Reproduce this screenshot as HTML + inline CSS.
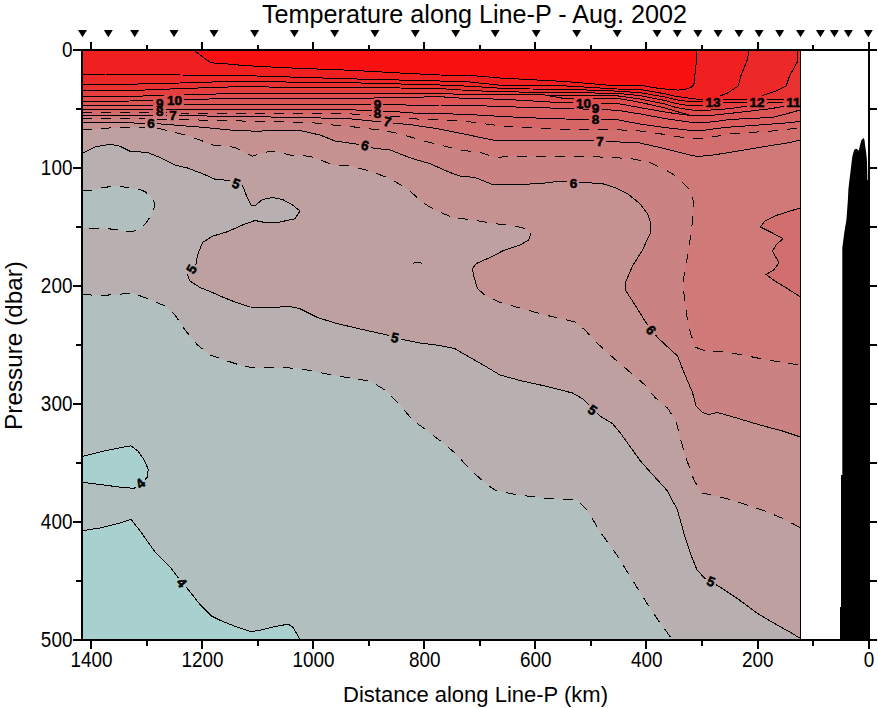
<!DOCTYPE html>
<html><head><meta charset="utf-8"><title>Temperature along Line-P - Aug. 2002</title>
<style>
html,body{margin:0;padding:0;background:#fff;}
body{width:878px;height:708px;position:relative;overflow:hidden;font-family:"Liberation Sans",sans-serif;}
</style></head><body>
<svg width="878" height="708" viewBox="0 0 878 708" style="position:absolute;left:0;top:0">
<defs><clipPath id="cp"><rect x="82" y="50" width="718.5" height="589.5"/></clipPath></defs>
<g clip-path="url(#cp)" shape-rendering="crispEdges">
<rect x="82" y="50" width="718.5" height="589.5" fill="#b1c0bf"/>
<polygon points="82.0,530.8 101.0,527.8 119.0,523.3 131.0,519.4 140.0,530.8 154.8,551.7 169.8,566.7 178.8,578.7 187.8,589.1 199.7,604.1 211.7,616.1 220.7,620.6 235.6,626.6 250.6,631.6 259.6,630.4 274.6,626.6 288.0,624.2 292.5,626.6 297.0,634.0 299.6,639.5 82.0,639.5" fill="#a8d0cf"/>
<polygon points="82.0,456.5 98.0,452.4 116.0,448.5 131.0,445.8 138.4,451.5 144.4,460.4 148.2,469.4 147.3,477.0 141.4,484.4 133.9,488.3 121.9,487.4 104.0,485.0 82.0,482.3" fill="#a8d0cf"/>
<polygon points="82.0,294.5 100.0,295.5 117.5,294.5 132.5,293.0 147.5,298.7 165.0,306.0 175.0,315.0 185.0,330.0 197.5,345.0 210.0,355.0 227.5,361.0 242.5,366.0 255.0,368.0 280.0,367.5 300.0,368.5 325.0,373.7 350.0,378.0 370.0,381.0 385.0,390.0 400.0,405.0 412.5,420.0 427.5,431.0 442.5,442.5 455.0,453.0 470.0,469.4 485.0,483.0 495.4,490.4 517.8,494.9 541.8,497.9 562.7,499.4 577.7,500.2 586.7,509.8 601.6,533.8 616.6,554.7 631.6,578.7 646.5,602.6 659.4,622.0 672.3,639.5 800.5,639.5 800.5,50.0 82.0,50.0" fill="#b8b0b0"/>
<polygon points="82.0,190.9 90.3,190.4 100.5,188.1 110.8,186.5 115.9,186.1 121.0,186.5 130.2,188.3 139.5,189.4 144.6,191.4 149.7,195.5 153.3,200.1 154.6,203.7 153.8,209.9 150.7,216.0 147.7,220.6 141.5,228.3 137.4,230.4 131.3,231.4 125.1,231.2 113.8,229.3 102.6,228.3 92.3,228.3 82.0,228.5" fill="#b1c0bf"/>
<polygon points="82.0,153.7 95.0,147.0 110.0,144.2 120.0,146.2 130.0,151.2 147.5,152.5 160.0,157.5 175.0,165.0 187.5,168.0 202.5,173.7 215.0,179.2 228.7,180.5 242.5,185.5 246.2,195.0 251.2,205.7 255.0,205.7 262.5,199.5 272.5,197.5 282.5,199.5 292.5,205.0 300.0,211.0 295.0,218.7 280.0,222.0 265.0,222.5 255.0,220.5 242.5,225.0 227.5,231.7 212.5,236.2 202.5,242.5 197.5,255.0 196.0,263.7 187.5,275.0 190.0,281.0 200.0,287.5 212.5,292.5 220.0,296.0 235.0,302.0 250.0,307.0 270.0,307.5 290.0,306.5 300.0,308.7 317.5,317.5 337.5,323.7 362.5,329.5 385.0,334.5 402.5,339.5 420.0,343.0 440.0,345.5 455.0,348.7 470.0,357.5 485.0,366.0 500.0,375.0 520.0,380.5 545.0,386.0 572.5,393.0 582.5,398.7 600.0,416.0 612.5,423.7 620.0,432.5 632.5,450.0 640.0,460.4 652.0,474.0 667.0,490.4 677.4,509.8 684.9,536.8 690.9,554.7 696.9,569.7 704.4,578.0 720.8,587.6 738.8,599.6 756.7,613.0 774.7,623.6 789.7,632.0 800.5,638.5 800.5,50.0 82.0,50.0" fill="#bea0a0"/>
<polygon points="82.0,130.0 105.0,128.2 130.0,127.0 155.0,127.5 170.0,131.2 185.0,135.0 200.0,140.0 212.5,145.0 225.0,145.7 235.0,147.5 245.0,152.5 252.5,156.2 260.0,153.7 270.0,151.2 280.0,152.5 290.0,155.0 300.0,155.0 315.0,157.5 332.5,165.0 350.0,166.0 370.0,171.0 390.0,178.7 407.5,188.7 422.5,202.5 435.0,210.0 452.5,217.5 472.5,220.0 495.0,223.7 515.0,226.0 526.0,228.7 531.0,233.0 528.7,240.0 520.0,245.0 502.5,251.0 490.0,257.5 476.0,263.7 472.5,268.7 473.7,276.0 477.5,288.7 486.0,296.0 500.0,302.5 522.5,308.7 545.0,315.0 565.0,319.5 575.0,322.0 585.0,330.0 595.0,341.0 610.0,355.0 627.5,370.0 645.0,385.0 655.0,397.5 667.5,408.0 676.0,421.0 680.0,437.5 686.4,459.0 693.9,480.0 701.4,492.8 711.8,494.9 729.8,499.4 747.7,505.3 765.7,511.3 783.7,518.8 800.5,527.8 800.5,50.0 82.0,50.0" fill="#c59291"/>
<polygon points="82.0,122.0 120.0,122.6 157.5,123.7 180.0,125.5 205.0,127.5 230.0,130.0 255.0,131.2 280.0,130.5 300.0,130.5 320.0,135.0 335.0,141.0 360.0,144.5 372.5,148.0 390.0,150.0 412.5,158.7 430.0,163.7 450.0,172.5 460.0,176.0 475.0,177.5 493.7,185.0 515.0,184.5 540.0,183.7 560.0,181.0 585.0,182.5 602.5,183.7 615.0,187.5 627.5,193.7 640.0,203.7 647.5,213.7 651.0,223.7 650.0,233.7 642.5,250.0 632.5,266.0 625.0,283.7 626.0,291.0 635.0,305.0 645.0,321.0 657.5,337.5 677.5,356.0 685.0,375.0 692.5,392.5 696.0,406.0 702.5,412.5 708.7,414.5 717.5,412.5 735.0,417.5 760.0,425.0 782.5,431.0 800.5,437.0 800.5,50.0 82.0,50.0" fill="#cb8282"/>
<polygon points="82.0,118.0 130.0,118.6 180.0,119.5 234.0,120.9 280.0,121.5 315.0,123.0 337.5,125.5 360.0,127.5 382.5,130.5 400.0,133.7 420.0,140.0 440.0,145.0 460.0,150.0 480.0,152.5 497.5,158.0 507.5,156.0 519.5,156.0 560.0,156.5 600.0,157.0 630.0,158.5 648.7,162.0 658.7,167.0 667.5,171.0 675.0,175.5 682.5,182.5 690.0,190.0 693.0,200.0 693.0,210.0 692.0,225.0 690.0,240.0 688.7,250.0 686.0,265.0 683.7,277.5 683.7,290.0 684.5,300.0 687.5,320.0 691.0,335.0 696.0,347.5 705.0,350.7 725.0,351.7 745.0,355.5 765.0,359.5 782.5,362.5 800.5,365.0 800.5,50.0 82.0,50.0" fill="#cf7978"/>
<polygon points="82.0,115.5 130.0,115.3 180.0,115.6 234.0,116.4 300.0,117.5 349.0,118.7 392.5,123.0 412.5,125.0 437.5,128.7 462.5,133.7 492.5,140.0 519.5,140.0 560.0,140.5 600.0,141.0 640.0,143.0 665.0,148.7 690.0,155.0 697.0,156.4 710.0,155.5 731.0,152.2 772.0,145.4 790.0,142.5 800.5,140.0 800.5,50.0 82.0,50.0" fill="#d36e6e"/>
<polygon points="82.0,112.4 130.0,112.6 180.0,113.0 234.0,113.5 300.0,113.5 349.0,113.8 400.0,117.0 420.0,119.3 440.0,120.0 469.0,121.7 500.0,125.8 530.0,127.5 565.0,129.6 617.0,129.7 640.0,131.0 665.0,134.5 690.0,138.6 700.0,139.0 715.0,136.5 731.0,133.8 772.0,131.0 790.0,129.0 800.5,128.3 800.5,50.0 82.0,50.0" fill="#d66666"/>
<polygon points="82.0,110.0 130.0,109.8 180.0,109.5 234.0,109.4 300.0,109.4 349.0,109.7 400.0,112.0 420.0,113.5 440.0,113.6 469.0,114.5 500.0,116.4 530.0,117.8 565.0,119.0 617.0,119.7 640.0,124.0 665.0,127.5 690.0,130.4 700.0,131.0 715.0,128.7 731.0,127.0 765.0,124.6 786.0,122.9 800.5,121.5 800.5,50.0 82.0,50.0" fill="#d95f5f"/>
<polygon points="82.0,106.0 130.0,105.6 180.0,105.0 234.0,104.1 300.0,104.0 349.0,104.1 400.0,104.8 420.0,105.5 440.0,105.0 469.0,105.4 500.0,106.5 530.0,107.5 565.0,108.4 617.0,110.2 640.0,113.9 665.0,118.5 690.0,122.2 700.0,123.0 715.0,121.5 731.0,119.4 772.0,117.4 786.0,114.0 800.5,109.9 800.5,50.0 82.0,50.0" fill="#dc5555"/>
<polygon points="82.0,101.5 130.0,101.0 180.0,99.8 234.0,98.3 300.0,98.3 349.0,98.5 400.0,97.5 440.0,96.7 469.0,98.7 500.0,99.1 530.0,100.8 565.0,102.9 617.0,103.4 640.0,107.6 665.0,112.0 676.0,113.7 690.0,115.3 700.0,116.0 715.0,115.0 731.0,113.3 772.0,108.5 786.0,105.8 800.5,104.4 800.5,50.0 82.0,50.0" fill="#e04b4b"/>
<polygon points="800.5,208.0 790.0,211.0 777.5,215.0 765.0,221.0 760.5,227.0 772.5,233.0 783.0,238.7 776.0,245.0 772.5,251.0 776.0,257.5 779.0,263.0 773.7,270.0 766.0,274.5 775.0,281.0 787.5,288.7 800.5,297.0" fill="#d36e6e"/>
<polygon points="545.0,95.2 565.0,98.6 617.0,98.3 640.0,102.3 665.0,108.0 676.0,111.3 690.0,115.3 690.0,109.9 676.0,107.5 665.0,104.0 640.0,99.0 617.0,95.8 565.0,95.6 545.0,95.0" fill="#e24444"/>
<polygon points="82.0,97.0 130.0,96.4 180.0,95.0 234.0,93.5 300.0,93.3 349.0,93.2 400.0,93.3 440.0,93.4 469.0,94.8 500.0,94.6 530.0,94.8 545.0,95.0 565.0,95.6 617.0,95.8 640.0,99.0 665.0,104.0 676.0,107.5 690.0,109.9 700.0,110.6 715.0,109.8 731.0,108.5 750.0,105.5 772.0,102.4 786.0,102.6 800.5,103.0 800.5,50.0 82.0,50.0" fill="#e43e3e"/>
<polygon points="82.0,91.0 130.0,90.6 180.0,88.6 234.0,86.8 300.0,87.2 349.0,87.5 400.0,88.0 440.0,88.6 469.0,90.5 500.0,91.7 530.0,92.2 565.0,92.6 617.0,93.3 640.0,95.6 665.0,100.5 676.0,103.6 690.0,105.8 700.0,106.0 710.0,104.2 722.0,102.4 750.0,102.4 766.0,100.0 786.0,99.2 800.5,100.5 800.5,50.0 82.0,50.0" fill="#e83232"/>
<polygon points="82.0,84.5 130.0,84.2 180.0,83.0 234.0,81.3 300.0,82.2 349.0,82.7 400.0,84.0 440.0,85.0 469.0,86.2 500.0,88.2 530.0,89.0 565.0,89.2 617.0,91.1 640.0,92.7 665.0,97.0 676.0,99.8 690.0,101.7 700.0,102.0 710.0,100.6 722.0,99.6 750.0,99.6 757.0,98.5 763.0,95.4 776.0,91.0 786.2,86.0 789.6,75.8 797.3,62.0 797.8,50.0 82.0,50.0" fill="#ed2828"/>
<polygon points="82.0,75.0 105.0,74.0 130.0,74.3 180.0,75.0 234.0,75.3 300.0,77.3 349.0,78.8 400.0,80.0 440.0,81.0 469.0,81.9 500.0,85.2 530.0,85.6 565.0,85.9 617.0,89.0 640.0,89.4 665.0,93.8 676.0,96.4 690.0,98.2 700.0,99.6 710.0,100.2 719.5,96.3 728.0,92.8 738.3,86.0 740.9,75.8 747.7,58.7 748.6,50.0 82.0,50.0" fill="#f12020"/>
<polygon points="193.4,50.0 198.0,53.5 203.0,57.0 207.0,60.2 210.8,62.4 217.0,63.5 227.0,63.9 240.5,65.2 260.0,66.5 300.0,68.4 349.0,70.2 400.0,73.0 440.0,75.0 469.0,75.3 500.0,78.0 530.0,79.6 565.0,81.5 617.0,85.9 640.0,85.0 649.6,87.0 659.2,88.4 668.8,89.4 678.4,90.1 685.0,89.4 691.0,87.4 693.8,84.6 694.8,79.8 695.0,74.0 696.2,63.3 696.2,50.0" fill="#f91111"/>
</g>
<g clip-path="url(#cp)" fill="none" stroke="#000" stroke-width="1" stroke-linejoin="round" shape-rendering="crispEdges">
<polyline points="82.0,530.8 101.0,527.8 119.0,523.3 131.0,519.4 140.0,530.8 154.8,551.7 169.8,566.7 178.2,577.9" />
<polyline points="186.1,587.2 187.8,589.1 199.7,604.1 211.7,616.1 220.7,620.6 235.6,626.6 250.6,631.6 259.6,630.4 274.6,626.6 288.0,624.2 292.5,626.6 297.0,634.0 299.6,639.5" />
<polyline points="82.0,456.5 98.0,452.4 116.0,448.5 131.0,445.8 138.4,451.5 144.4,460.4 148.2,469.4 147.3,477.0 145.3,479.5" />
<polyline points="135.8,487.3 133.9,488.3 121.9,487.4 104.0,485.0 82.0,482.3" />
<polyline points="82.0,153.7 95.0,147.0 110.0,144.2 120.0,146.2 130.0,151.2 147.5,152.5 160.0,157.5 175.0,165.0 187.5,168.0 202.5,173.7 215.0,179.2 228.7,180.5 230.6,181.2" />
<polyline points="242.0,185.3 242.5,185.5 246.2,195.0 251.2,205.7 255.0,205.7 262.5,199.5 272.5,197.5 282.5,199.5 292.5,205.0 300.0,211.0 295.0,218.7 280.0,222.0 265.0,222.5 255.0,220.5 242.5,225.0 227.5,231.7 212.5,236.2 202.5,242.5 197.5,255.0 196.0,263.7 195.4,264.5" />
<polyline points="188.1,274.2 187.5,275.0 190.0,281.0 200.0,287.5 212.5,292.5 220.0,296.0 235.0,302.0 250.0,307.0 270.0,307.5 290.0,306.5 300.0,308.7 317.5,317.5 337.5,323.7 362.5,329.5 385.0,334.5 388.9,335.6" />
<polyline points="401.0,339.1 402.5,339.5 420.0,343.0 440.0,345.5 455.0,348.7 470.0,357.5 485.0,366.0 500.0,375.0 520.0,380.5 545.0,386.0 572.5,393.0 582.5,398.7 588.6,404.7" />
<polyline points="597.5,413.5 600.0,416.0 612.5,423.7 620.0,432.5 640.0,460.4 652.0,474.0 667.0,490.4 677.4,509.8 684.9,536.8 690.9,554.7 696.9,569.7 704.4,578.0 705.7,578.8" />
<polyline points="716.1,584.8 720.8,587.6 738.8,599.6 756.7,613.0 774.7,623.6 789.7,632.0 800.5,638.5" />
<polyline points="413.0,263.5 414.5,262.4 420.5,262.4 422.0,263.5" />
<polyline points="82.0,122.0 120.0,122.6 145.0,123.3" />
<polyline points="157.0,123.7 205.0,127.5 230.0,130.0 255.0,131.2 280.0,130.5 300.0,130.5 320.0,135.0 335.0,141.0 359.0,144.4" />
<polyline points="371.0,147.6 372.5,148.0 390.0,150.0 412.5,158.7 430.0,163.7 450.0,172.5 460.0,176.0 475.0,177.5 493.7,185.0 515.0,184.5 540.0,183.7 560.0,181.0 567.0,181.4" />
<polyline points="579.5,182.2 602.5,183.7 615.0,187.5 627.5,193.7 640.0,203.7 647.5,213.7 651.0,223.7 650.0,233.7 642.5,250.0 632.5,266.0 625.0,283.7 626.0,291.0 635.0,305.0 645.0,321.0 647.7,324.6" />
<polyline points="655.4,334.7 657.5,337.5 677.5,356.0 685.0,375.0 692.5,392.5 696.0,406.0 702.5,412.5 708.7,414.5 717.5,412.5 735.0,417.5 760.0,425.0 782.5,431.0 800.5,437.0" />
<polyline points="82.0,115.5 130.0,115.3 153.5,115.4" />
<polyline points="166.0,115.5 167.0,115.5" />
<polyline points="179.0,115.6 234.0,116.4 300.0,117.5 349.0,118.7 381.0,121.9" />
<polyline points="393.5,123.1 412.5,125.0 437.5,128.7 462.5,133.7 492.5,140.0 519.5,140.0 594.0,140.9" />
<polyline points="606.0,141.3 640.0,143.0 665.0,148.7 690.0,155.0 697.0,156.4 710.0,155.5 731.0,152.2 772.0,145.4 790.0,142.5 800.5,140.0" />
<polyline points="800.5,208.0 790.0,211.0 777.5,215.0 765.0,221.0 760.5,227.0 772.5,233.0 783.0,238.7 776.0,245.0 772.5,251.0 779.0,263.0 773.7,270.0 766.0,274.5 775.0,281.0 787.5,288.7 800.5,297.0" />
<polyline points="82.0,110.0 153.5,109.7" />
<polyline points="166.0,109.6 180.0,109.5 234.0,109.4 300.0,109.4 349.0,109.7 371.5,110.7" />
<polyline points="383.5,111.3 400.0,112.0 420.0,113.5 440.0,113.6 469.0,114.5 500.0,116.4 530.0,117.8 565.0,119.0 589.5,119.3" />
<polyline points="601.5,119.5 617.0,119.7 640.0,124.0 665.0,127.5 690.0,130.4 700.0,131.0 715.0,128.7 731.0,127.0 765.0,124.6 786.0,122.9 800.5,121.5" />
<polyline points="82.0,106.0 130.0,105.6 153.5,105.3" />
<polyline points="184.5,104.9 234.0,104.1 300.0,104.0 349.0,104.1 371.5,104.4" />
<polyline points="383.5,104.6 400.0,104.8 420.0,105.5 440.0,105.0 469.0,105.4 530.0,107.5 565.0,108.4 573.5,108.7" />
<polyline points="579.5,108.9 589.5,109.2" />
<polyline points="601.5,109.7 617.0,110.2 640.0,113.9 665.0,118.5 690.0,122.2 700.0,123.0 715.0,121.5 731.0,119.4 772.0,117.4 786.0,114.0 800.5,109.9" />
<polyline points="82.0,101.5 130.0,101.0 153.5,100.4" />
<polyline points="184.5,99.7 234.0,98.3 300.0,98.3 349.0,98.5 440.0,96.7 469.0,98.7 500.0,99.1 530.0,100.8 565.0,102.9 573.5,103.0" />
<polyline points="601.5,103.3 617.0,103.4 640.0,107.6 665.0,112.0 676.0,113.7 690.0,115.3 700.0,116.0 715.0,115.0 731.0,113.3 772.0,108.5 783.5,106.3" />
<polyline points="545.0,95.2 565.0,98.6 573.5,98.6" />
<polyline points="593.0,98.4 617.0,98.3 640.0,102.3 665.0,108.0 676.0,111.3 690.0,115.3" />
<polyline points="82.0,97.0 130.0,96.4 164.5,95.4" />
<polyline points="184.5,94.9 234.0,93.5 349.0,93.2 400.0,93.3 440.0,93.4 469.0,94.8 500.0,94.6 530.0,94.8 545.0,95.0 565.0,95.6 617.0,95.8 640.0,99.0 665.0,104.0 676.0,107.5 690.0,109.9 700.0,110.6 715.0,109.8 731.0,108.5 747.0,106.0" />
<polyline points="767.0,103.1 772.0,102.4 783.5,102.6" />
<polyline points="82.0,91.0 130.0,90.6 180.0,88.6 234.0,86.8 349.0,87.5 400.0,88.0 440.0,88.6 469.0,90.5 500.0,91.7 530.0,92.2 565.0,92.6 617.0,93.3 640.0,95.6 665.0,100.5 676.0,103.6 690.0,105.8 700.0,106.0 703.0,105.5" />
<polyline points="723.0,102.4 747.0,102.4" />
<polyline points="767.0,100.0 783.5,99.3" />
<polyline points="82.0,84.5 130.0,84.2 180.0,83.0 234.0,81.3 300.0,82.2 349.0,82.7 440.0,85.0 469.0,86.2 500.0,88.2 530.0,89.0 565.0,89.2 617.0,91.1 640.0,92.7 665.0,97.0 676.0,99.8 690.0,101.7 700.0,102.0 703.0,101.6" />
<polyline points="723.0,99.6 747.0,99.6" />
<polyline points="762.1,95.9 763.0,95.4 776.0,91.0 786.2,86.0 789.6,75.8 797.3,62.0 797.8,50.0" />
<polyline points="82.0,75.0 105.0,74.0 180.0,75.0 234.0,75.3 349.0,78.8 440.0,81.0 469.0,81.9 500.0,85.2 530.0,85.6 565.0,85.9 617.0,89.0 640.0,89.4 665.0,93.8 676.0,96.4 690.0,98.2 700.0,99.6 703.0,99.8" />
<polyline points="720.4,95.9 728.0,92.8 738.3,86.0 740.9,75.8 747.7,58.7 748.6,50.0" />
<polyline points="193.4,50.0 198.0,53.5 203.0,57.0 207.0,60.2 210.8,62.4 217.0,63.5 227.0,63.9 240.5,65.2 260.0,66.5 300.0,68.4 349.0,70.2 400.0,73.0 440.0,75.0 469.0,75.3 500.0,78.0 565.0,81.5 617.0,85.9 640.0,85.0 649.6,87.0 659.2,88.4 668.8,89.4 678.4,90.1 685.0,89.4 691.0,87.4 693.8,84.6 694.8,79.8 695.0,74.0 696.2,63.3 696.2,50.0" />
<polyline points="82.0,294.5 100.0,295.5 117.5,294.5 132.5,293.0 147.5,298.7 165.0,306.0 175.0,315.0 185.0,330.0 197.5,345.0 210.0,355.0 227.5,361.0 242.5,366.0 255.0,368.0 280.0,367.5 300.0,368.5 325.0,373.7 350.0,378.0 370.0,381.0 385.0,390.0 400.0,405.0 412.5,420.0 427.5,431.0 442.5,442.5 455.0,453.0 470.0,469.4 485.0,483.0 495.4,490.4 517.8,494.9 541.8,497.9 562.7,499.4 577.7,500.2 586.7,509.8 601.6,533.8 616.6,554.7 646.5,602.6 659.4,622.0 672.3,639.5" stroke-dasharray="10 9"/>
<polyline points="82.0,190.9 90.3,190.4 100.5,188.1 110.8,186.5 115.9,186.1 121.0,186.5 130.2,188.3 139.5,189.4 144.6,191.4 149.7,195.5 153.3,200.1 154.6,203.7 153.8,209.9 150.7,216.0 147.7,220.6 141.5,228.3 137.4,230.4 131.3,231.4 125.1,231.2 113.8,229.3 102.6,228.3 92.3,228.3 82.0,228.5" stroke-dasharray="10 9"/>
<polyline points="82.0,118.0 130.0,118.6 145.0,118.9" stroke-dasharray="10 9"/>
<polyline points="157.0,119.1 167.0,119.3" stroke-dasharray="10 9"/>
<polyline points="179.0,119.5 234.0,120.9 280.0,121.5 315.0,123.0 337.5,125.5 360.0,127.5 382.5,130.5 400.0,133.7 420.0,140.0 460.0,150.0 480.0,152.5 497.5,158.0 507.5,156.0 519.5,156.0 600.0,157.0 630.0,158.5 648.7,162.0 658.7,167.0 667.5,171.0 675.0,175.5 682.5,182.5 690.0,190.0 693.0,200.0 693.0,210.0 692.0,225.0 688.7,250.0 683.7,277.5 683.7,290.0 684.5,300.0 687.5,320.0 691.0,335.0 696.0,347.5 705.0,350.7 725.0,351.7 745.0,355.5 765.0,359.5 782.5,362.5 800.5,365.0" stroke-dasharray="10 9"/>
<polyline points="82.0,112.4 130.0,112.6 153.5,112.8" stroke-dasharray="10 9"/>
<polyline points="166.0,112.9 167.0,112.9" stroke-dasharray="10 9"/>
<polyline points="179.0,113.0 234.0,113.5 300.0,113.5 349.0,113.8 371.5,115.2" stroke-dasharray="10 9"/>
<polyline points="390.0,116.4 400.0,117.0 420.0,119.3 440.0,120.0 469.0,121.7 500.0,125.8 530.0,127.5 565.0,129.6 617.0,129.7 640.0,131.0 665.0,134.5 690.0,138.6 700.0,139.0 731.0,133.8 772.0,131.0 790.0,129.0 800.5,128.3" stroke-dasharray="10 9"/>
<polyline points="82.0,130.0 105.0,128.2 130.0,127.0 145.0,127.3" stroke-dasharray="10 9"/>
<polyline points="157.0,128.0 170.0,131.2 185.0,135.0 200.0,140.0 212.5,145.0 225.0,145.7 235.0,147.5 252.5,156.2 260.0,153.7 270.0,151.2 280.0,152.5 290.0,155.0 300.0,155.0 315.0,157.5 332.5,165.0 350.0,166.0 370.0,171.0 390.0,178.7 407.5,188.7 422.5,202.5 435.0,210.0 452.5,217.5 472.5,220.0 495.0,223.7 515.0,226.0 526.0,228.7 531.0,233.0" stroke-dasharray="10 9"/>
<polyline points="531.0,233.0 528.7,240.0 520.0,245.0 502.5,251.0 490.0,257.5 476.0,263.7 472.5,268.7 473.7,276.0 477.5,288.7" />
<polyline points="477.5,288.7 486.0,296.0 500.0,302.5 522.5,308.7 545.0,315.0 565.0,319.5 575.0,322.0 585.0,330.0 595.0,341.0 610.0,355.0 645.0,385.0 655.0,397.5 667.5,408.0 676.0,421.0 680.0,437.5 686.4,459.0 693.9,480.0 701.4,492.8 711.8,494.9 729.8,499.4 765.7,511.3 783.7,518.8 800.5,527.8" stroke-dasharray="10 9"/>
</g>
<rect x="800" y="50" width="1" height="590" fill="#000"/>
<polygon points="840.0,639.5 840.0,607.0 841.0,607.0 841.0,475.0 842.3,475.0 842.3,248.0 844.3,232.4 846.4,220.0 847.9,199.8 848.4,189.3 849.4,180.4 850.4,172.5 851.4,164.1 852.3,156.7 853.3,152.7 854.3,149.8 855.8,148.8 857.3,149.3 858.8,150.8 859.3,148.3 860.3,144.3 861.2,140.4 862.7,138.7 863.7,137.9 864.5,139.9 865.2,145.8 866.2,152.7 866.9,159.7 867.2,169.6 867.4,180.0 869.0,180.0 869.0,639.5" fill="#000"/>
<g fill="#000" shape-rendering="crispEdges">
<rect x="81" y="49" width="796" height="2"/>
<rect x="81" y="639" width="789" height="2"/>
<rect x="81" y="49" width="2" height="592"/>
<rect x="868" y="49" width="2" height="592"/>
<rect x="868" y="42" width="2" height="8"/>
<rect x="868" y="640" width="2" height="9"/>
<rect x="812" y="45" width="2" height="5"/>
<rect x="812" y="640" width="2" height="6"/>
<rect x="757" y="42" width="2" height="8"/>
<rect x="757" y="640" width="2" height="9"/>
<rect x="701" y="45" width="2" height="5"/>
<rect x="701" y="640" width="2" height="6"/>
<rect x="645" y="42" width="2" height="8"/>
<rect x="645" y="640" width="2" height="9"/>
<rect x="590" y="45" width="2" height="5"/>
<rect x="590" y="640" width="2" height="6"/>
<rect x="534" y="42" width="2" height="8"/>
<rect x="534" y="640" width="2" height="9"/>
<rect x="479" y="45" width="2" height="5"/>
<rect x="479" y="640" width="2" height="6"/>
<rect x="423" y="42" width="2" height="8"/>
<rect x="423" y="640" width="2" height="9"/>
<rect x="368" y="45" width="2" height="5"/>
<rect x="368" y="640" width="2" height="6"/>
<rect x="312" y="42" width="2" height="8"/>
<rect x="312" y="640" width="2" height="9"/>
<rect x="257" y="45" width="2" height="5"/>
<rect x="257" y="640" width="2" height="6"/>
<rect x="201" y="42" width="2" height="8"/>
<rect x="201" y="640" width="2" height="9"/>
<rect x="146" y="45" width="2" height="5"/>
<rect x="146" y="640" width="2" height="6"/>
<rect x="90" y="42" width="2" height="8"/>
<rect x="90" y="640" width="2" height="9"/>
<rect x="73" y="49" width="9" height="2"/>
<rect x="76" y="108" width="6" height="2"/>
<rect x="869" y="108" width="8" height="2"/>
<rect x="73" y="167" width="9" height="2"/>
<rect x="869" y="167" width="8" height="2"/>
<rect x="76" y="226" width="6" height="2"/>
<rect x="869" y="226" width="8" height="2"/>
<rect x="73" y="285" width="9" height="2"/>
<rect x="869" y="285" width="8" height="2"/>
<rect x="76" y="344" width="6" height="2"/>
<rect x="869" y="344" width="8" height="2"/>
<rect x="73" y="403" width="9" height="2"/>
<rect x="869" y="403" width="8" height="2"/>
<rect x="76" y="462" width="6" height="2"/>
<rect x="869" y="462" width="8" height="2"/>
<rect x="73" y="521" width="9" height="2"/>
<rect x="869" y="521" width="8" height="2"/>
<rect x="76" y="580" width="6" height="2"/>
<rect x="869" y="580" width="8" height="2"/>
<rect x="73" y="639" width="9" height="2"/>
<rect x="869" y="639" width="8" height="2"/>
</g>
<g fill="#000">
<polygon points="78.0,30 87.0,30 82.5,37.3"/>
<polygon points="103.8,30 112.8,30 108.3,37.3"/>
<polygon points="130.2,30 139.2,30 134.7,37.3"/>
<polygon points="169.5,30 178.5,30 174.0,37.3"/>
<polygon points="209.5,30 218.5,30 214.0,37.3"/>
<polygon points="250.2,30 259.2,30 254.7,37.3"/>
<polygon points="289.9,30 298.9,30 294.4,37.3"/>
<polygon points="330.2,30 339.2,30 334.7,37.3"/>
<polygon points="370.4,30 379.4,30 374.9,37.3"/>
<polygon points="410.8,30 419.8,30 415.3,37.3"/>
<polygon points="451.2,30 460.2,30 455.7,37.3"/>
<polygon points="490.7,30 499.7,30 495.2,37.3"/>
<polygon points="531.7,30 540.7,30 536.2,37.3"/>
<polygon points="572.2,30 581.2,30 576.7,37.3"/>
<polygon points="612.7,30 621.7,30 617.2,37.3"/>
<polygon points="652.6,30 661.6,30 657.1,37.3"/>
<polygon points="672.8,30 681.8,30 677.3,37.3"/>
<polygon points="693.4,30 702.4,30 697.9,37.3"/>
<polygon points="713.6,30 722.6,30 718.1,37.3"/>
<polygon points="734.5,30 743.5,30 739.0,37.3"/>
<polygon points="754.6,30 763.6,30 759.1,37.3"/>
<polygon points="775.2,30 784.2,30 779.7,37.3"/>
<polygon points="796.0,30 805.0,30 800.5,37.3"/>
<polygon points="815.9,30 824.9,30 820.4,37.3"/>
<polygon points="829.9,30 838.9,30 834.4,37.3"/>
<polygon points="843.9,30 852.9,30 848.4,37.3"/>
<polygon points="863.8,30 872.8,30 868.3,37.3"/>
</g>
<g font-family="Liberation Sans, sans-serif" fill="#000">
<text x="474.5" y="23" font-size="25.2" text-anchor="middle">Temperature along Line-P - Aug. 2002</text>
<text x="475.5" y="702" font-size="22" text-anchor="middle">Distance along Line-P (km)</text>
<text transform="translate(21.8,345.5) rotate(-90)" font-size="24.3" text-anchor="middle">Pressure (dbar)</text>
<text transform="translate(868.9,667) scale(1,1.13)" font-size="18.9" text-anchor="middle">0</text>
<text transform="translate(757.8,667) scale(1,1.13)" font-size="18.9" text-anchor="middle">200</text>
<text transform="translate(646.8,667) scale(1,1.13)" font-size="18.9" text-anchor="middle">400</text>
<text transform="translate(535.7,667) scale(1,1.13)" font-size="18.9" text-anchor="middle">600</text>
<text transform="translate(424.7,667) scale(1,1.13)" font-size="18.9" text-anchor="middle">800</text>
<text transform="translate(313.6,667) scale(1,1.13)" font-size="18.9" text-anchor="middle">1000</text>
<text transform="translate(202.5,667) scale(1,1.13)" font-size="18.9" text-anchor="middle">1200</text>
<text transform="translate(91.5,667) scale(1,1.13)" font-size="18.9" text-anchor="middle">1400</text>
<text transform="translate(72.4,57.3) scale(1,1.13)" font-size="18.9" text-anchor="end">0</text>
<text transform="translate(72.4,175.3) scale(1,1.13)" font-size="18.9" text-anchor="end">100</text>
<text transform="translate(72.4,293.3) scale(1,1.13)" font-size="18.9" text-anchor="end">200</text>
<text transform="translate(72.4,411.3) scale(1,1.13)" font-size="18.9" text-anchor="end">300</text>
<text transform="translate(72.4,529.3) scale(1,1.13)" font-size="18.9" text-anchor="end">400</text>
<text transform="translate(72.4,647.3) scale(1,1.13)" font-size="18.9" text-anchor="end">500</text>
</g>
<g clip-path="url(#cp)" font-family="Liberation Sans, sans-serif" font-size="13.5" font-weight="bold" fill="#000" stroke="#000" stroke-width="0.55" text-anchor="middle">
<text transform="translate(174.6,100.2) rotate(0)" y="4.8">10</text>
<text transform="translate(159.7,103.6) rotate(0)" y="4.8">9</text>
<text transform="translate(159.7,110.8) rotate(0)" y="4.8">8</text>
<text transform="translate(173.0,115.6) rotate(0)" y="4.8">7</text>
<text transform="translate(151.0,123.3) rotate(0)" y="4.8">6</text>
<text transform="translate(377.5,103.7) rotate(0)" y="4.8">9</text>
<text transform="translate(377.5,113.0) rotate(0)" y="4.8">8</text>
<text transform="translate(387.5,121.6) rotate(12)" y="4.8">7</text>
<text transform="translate(365.0,145.4) rotate(15)" y="4.8">6</text>
<text transform="translate(583.4,103.3) rotate(0)" y="4.8">10</text>
<text transform="translate(595.5,108.6) rotate(0)" y="4.8">9</text>
<text transform="translate(595.5,119.4) rotate(0)" y="4.8">8</text>
<text transform="translate(600.0,141.6) rotate(0)" y="4.8">7</text>
<text transform="translate(573.4,182.8) rotate(0)" y="4.8">6</text>
<text transform="translate(713.0,101.7) rotate(0)" y="4.8">13</text>
<text transform="translate(757.0,101.7) rotate(0)" y="4.8">12</text>
<text transform="translate(793.5,101.7) rotate(0)" y="4.8">11</text>
<text transform="translate(236.2,183.5) rotate(20)" y="4.8">5</text>
<text transform="translate(191.5,269.1) rotate(-60)" y="4.8">5</text>
<text transform="translate(395.0,337.5) rotate(12)" y="4.8">5</text>
<text transform="translate(592.5,410.0) rotate(35)" y="4.8">5</text>
<text transform="translate(651.0,330.0) rotate(52)" y="4.8">6</text>
<text transform="translate(711.0,581.5) rotate(22)" y="4.8">5</text>
<text transform="translate(140.4,483.3) rotate(-40)" y="4.8">4</text>
<text transform="translate(181.9,582.5) rotate(50)" y="4.8">4</text>
</g>
</svg>
</body></html>
